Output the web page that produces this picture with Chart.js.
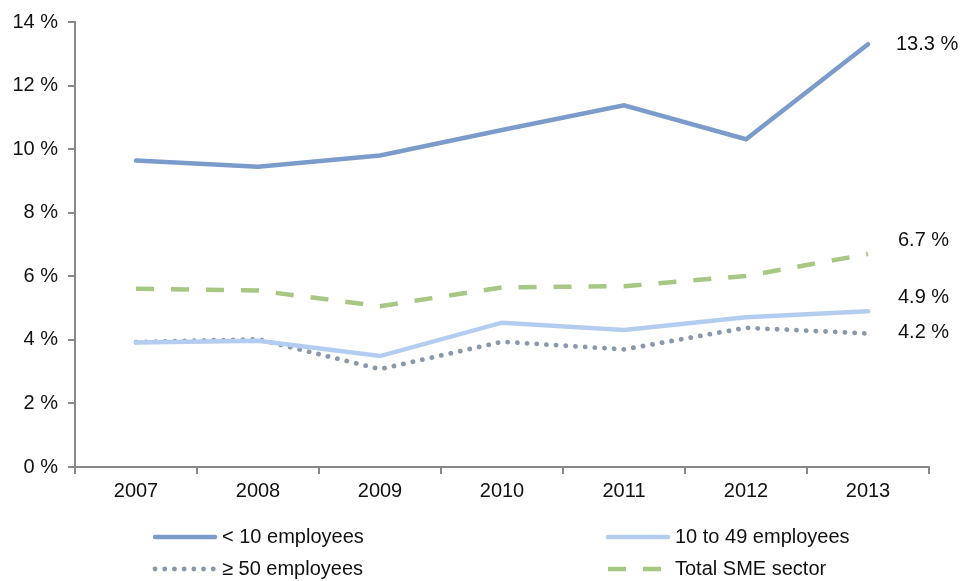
<!DOCTYPE html>
<html>
<head>
<meta charset="utf-8">
<script src="https://cdn.jsdelivr.net/npm/chart.js@4"></script>
<style>
  html, body { margin: 0; padding: 0; background: #fff; }
  #wrap { width: 960px; height: 581px; }
</style>
</head>
<body>
<div id="wrap"><canvas id="grafica" width="960" height="581"></canvas></div>
<script>
// Datos
const years = ['2007', '2008', '2009', '2010', '2011', '2012', '2013'];
const under10 = [9.64, 9.45, 9.80, 10.6, 11.38, 10.31, 13.3];
const from10to49 = [3.92, 3.97, 3.49, 4.54, 4.31, 4.71, 4.9];
const over50 = [3.93, 4.02, 3.08, 3.94, 3.70, 4.38, 4.2];
const totalSME = [5.61, 5.55, 5.06, 5.65, 5.69, 6.01, 6.7];
const seriesNames = ['< 10 employees', '10 to 49 employees', '\u2265 50 employees', 'Total SME sector'];
const endLabels = ['13.3 %', '4.9 %', '4.2 %', '6.7 %'];

(function(){
    const colores = {
        azul: '#7b9ccb',
        celeste: '#b3cdf1',
        gris: '#8a98a9',
        verde: '#a6c883',
        eje: '#888888',
        texto: '#111111'
    };
    const fuente = 'Liberation Sans, Arial, sans-serif';

    // desplazamiento de cada etiqueta final respecto al último punto
    const labelOffsets = [[28, 0], [30, -14], [30, -1], [30, -14]];
    // posición de cada entrada de la leyenda (columna, fila)
    const legendPos = [[155, 537], [608, 537], [155, 569], [608, 569]];

    const endLabelPlugin = {
        id: 'endLabels',
        afterDatasetsDraw(chart) {
            const ctx = chart.ctx;
            ctx.save();
            ctx.font = '20px ' + fuente;
            ctx.fillStyle = colores.texto;
            ctx.textAlign = 'left';
            ctx.textBaseline = 'middle';
            chart.data.datasets.forEach((ds, i) => {
                const meta = chart.getDatasetMeta(i);
                const last = meta.data[meta.data.length - 1];
                ctx.fillText(endLabels[i], last.x + labelOffsets[i][0], last.y + labelOffsets[i][1]);
            });
            ctx.restore();
        }
    };

    const legendPlugin = {
        id: 'gridLegend',
        afterDraw(chart) {
            const ctx = chart.ctx;
            ctx.save();
            chart.data.datasets.forEach((ds, i) => {
                const [x, y] = legendPos[i];
                ctx.beginPath();
                ctx.strokeStyle = ds.borderColor;
                ctx.lineWidth = ds.borderWidth;
                ctx.lineCap = ds.borderCapStyle || 'butt';
                ctx.setLineDash(ds.borderDash || []);
                ctx.moveTo(x, y);
                ctx.lineTo(x + 60, y);
                ctx.stroke();
                ctx.setLineDash([]);
                ctx.font = '20px ' + fuente;
                ctx.fillStyle = colores.texto;
                ctx.textBaseline = 'middle';
                ctx.fillText(ds.label, x + 67, y);
            });
            ctx.restore();
        }
    };

    const ctx1 = document.getElementById('grafica').getContext('2d');
    new Chart(ctx1, {
        type: 'line',
        data: {
            labels: years,
            datasets: [
                {
                    label: seriesNames[0],
                    data: under10,
                    borderColor: colores.azul,
                    borderWidth: 4.5,
                    borderCapStyle: 'round'
                },
                {
                    label: seriesNames[1],
                    data: from10to49,
                    borderColor: colores.celeste,
                    borderWidth: 4.5,
                    borderCapStyle: 'round'
                },
                {
                    label: seriesNames[2],
                    data: over50,
                    borderColor: colores.gris,
                    borderWidth: 4.8,
                    borderCapStyle: 'round',
                    borderDash: [0.1, 9.6]
                },
                {
                    label: seriesNames[3],
                    data: totalSME,
                    borderColor: colores.verde,
                    borderWidth: 4.5,
                    borderCapStyle: 'butt',
                    borderDash: [18, 17]
                }
            ]
        },
        options: {
            responsive: false,
            animation: false,
            devicePixelRatio: 1,
            elements: {
                point: { radius: 0, hoverRadius: 0 },
                line: { tension: 0 }
            },
            layout: {
                padding: { top: 22, right: 31, bottom: 74, left: 0 }
            },
            scales: {
                x: {
                    offset: true,
                    grid: {
                        offset: true,
                        drawOnChartArea: false,
                        drawTicks: true,
                        tickLength: 7,
                        color: colores.eje,
                        lineWidth: 2
                    },
                    border: { color: colores.eje, width: 2 },
                    ticks: {
                        color: colores.texto,
                        font: { family: fuente, size: 20 },
                        padding: 5,
                        maxRotation: 0
                    },
                    afterFit(scale) { scale.height = 40; }
                },
                y: {
                    min: 0,
                    max: 14,
                    grid: {
                        drawOnChartArea: false,
                        drawTicks: true,
                        tickLength: 7,
                        color: colores.eje,
                        lineWidth: 2
                    },
                    border: { color: colores.eje, width: 2 },
                    ticks: {
                        stepSize: 2,
                        color: colores.texto,
                        font: { family: fuente, size: 20 },
                        padding: 10,
                        callback: (v) => v + ' %'
                    },
                    afterFit(scale) { scale.width = 75; }
                }
            },
            plugins: {
                legend: { display: false },
                tooltip: { enabled: false }
            }
        },
        plugins: [endLabelPlugin, legendPlugin]
    });
})();
</script>
</body>
</html>
